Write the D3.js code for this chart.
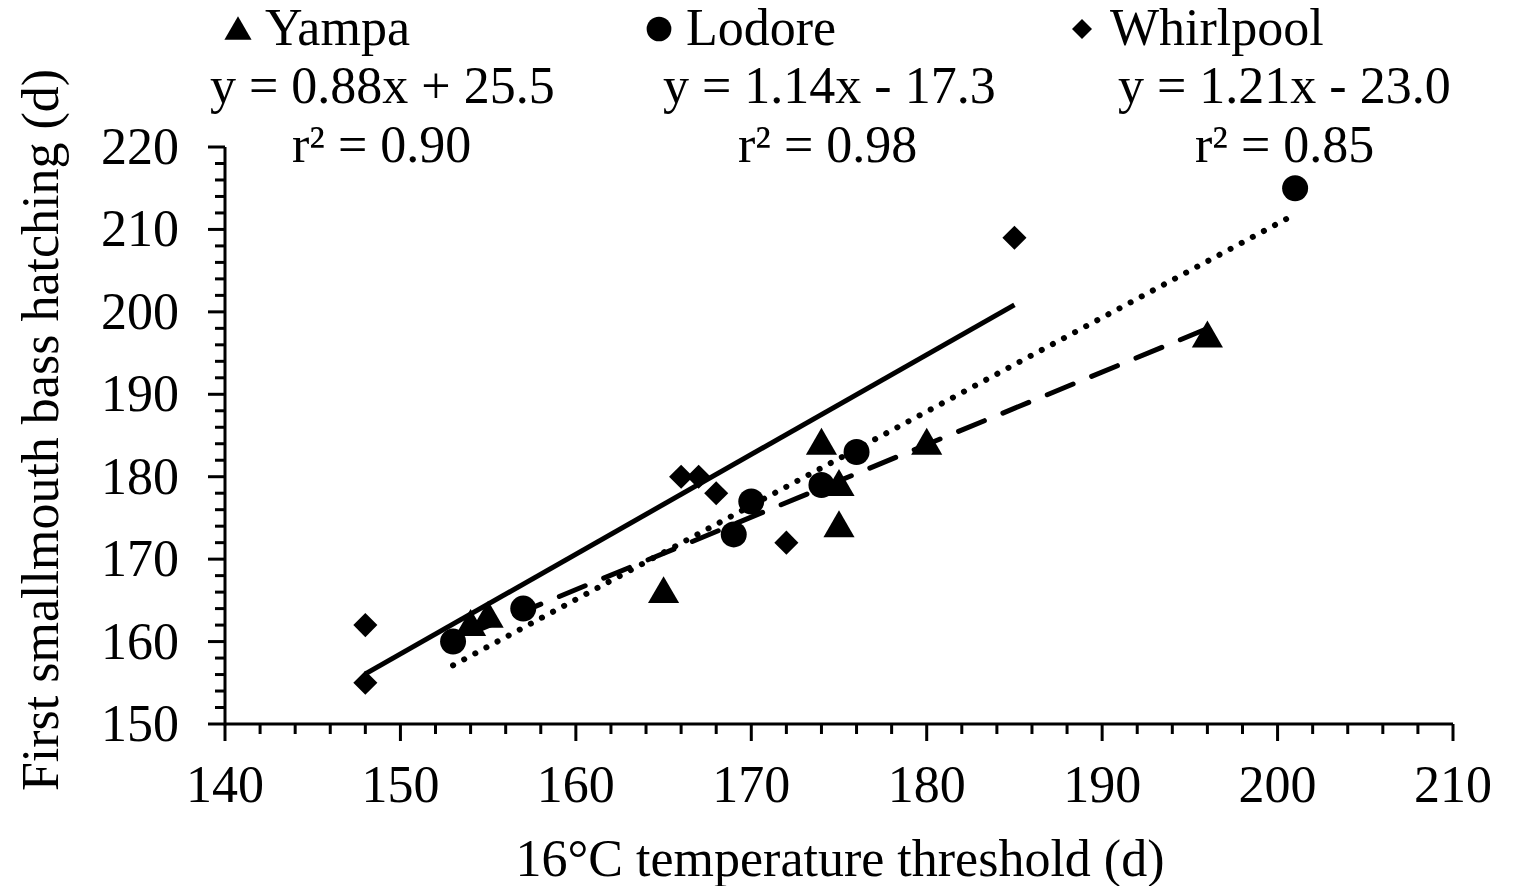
<!DOCTYPE html>
<html><head><meta charset="utf-8">
<script src="https://cdn.jsdelivr.net/npm/d3@7"></script>
<style>
body{margin:0;background:#fff;}
svg text{font-family:"Liberation Serif","Times New Roman",serif;fill:#000;}
</style></head>
<body><svg id="c" width="1519" height="886"></svg>
<script>
// ---- data ----
const seriesNames = ["Yampa", "Lodore", "Whirlpool"];
const yampaX = [154, 155, 165, 174, 175, 175, 180, 196];
const yampaY = [162, 163, 166, 184, 179, 174, 184, 197];
const lodoreX = [153, 157, 169, 170, 174, 176, 201];
const lodoreY = [160, 164, 173, 177, 179, 183, 215];
const whirlX = [148, 148, 166, 167, 168, 172, 185];
const whirlY = [162, 155, 180, 180, 178, 172, 209];
const slopes = [0.88, 1.14, 1.21];
const intercepts = [25.5, -17.3, -23.0];
const equations = ["y = 0.88x + 25.5", "y = 1.14x - 17.3", "y = 1.21x - 23.0"];
const r2Labels = ["r\u00B2 = 0.90", "r\u00B2 = 0.98", "r\u00B2 = 0.85"];
const xTicks = [140, 150, 160, 170, 180, 190, 200, 210];
const yTicks = [150, 160, 170, 180, 190, 200, 210, 220];
const xTitle = "16\u00B0C temperature threshold (d)";
const yTitle = "First smallmouth bass hatching (d)";

// ---- layout ----
const svg = d3.select("#c");
const x = d3.scaleLinear().domain([140, 210]).range([225, 1453]);
const y = d3.scaleLinear().domain([150, 220]).range([724, 147]);
const FS = 52;

// minor ticks
const xMinor = d3.range(140, 211, 2).filter(v => v % 10 !== 0);
const yMinor = d3.range(150, 221, 2).filter(v => v % 10 !== 0);
const axG = svg.append("g");
axG.selectAll(".xm").data(xMinor).join("line")
  .attr("x1", d => x(d)).attr("x2", d => x(d)).attr("y1", 724).attr("y2", 734)
  .attr("stroke", "#000").attr("stroke-width", 3);
axG.selectAll(".xM").data(xTicks).join("line")
  .attr("x1", d => x(d)).attr("x2", d => x(d)).attr("y1", 724).attr("y2", 741)
  .attr("stroke", "#000").attr("stroke-width", 3);
axG.selectAll(".ym").data(yMinor).join("line")
  .attr("y1", d => y(d)).attr("y2", d => y(d)).attr("x1", 225).attr("x2", 215)
  .attr("stroke", "#000").attr("stroke-width", 3);
axG.selectAll(".yM").data(yTicks).join("line")
  .attr("y1", d => y(d)).attr("y2", d => y(d)).attr("x1", 225).attr("x2", 208)
  .attr("stroke", "#000").attr("stroke-width", 3);
axG.append("line").attr("x1", x(140)).attr("x2", x(210)).attr("y1", y(150)).attr("y2", y(150))
  .attr("stroke", "#000").attr("stroke-width", 3);
axG.append("line").attr("x1", x(140)).attr("x2", x(140)).attr("y1", y(150)+1.5).attr("y2", y(220))
  .attr("stroke", "#000").attr("stroke-width", 3);

// tick labels
svg.selectAll(".xl").data(xTicks).join("text")
  .attr("x", d => x(d)).attr("y", 802).attr("text-anchor", "middle")
  .attr("font-size", FS).text(d => d);
svg.selectAll(".yl").data(yTicks).join("text")
  .attr("x", 179).attr("y", d => y(d) + 17).attr("text-anchor", "end")
  .attr("font-size", FS).text(d => d);

// axis titles
svg.append("text").attr("x", 840).attr("y", 876).attr("text-anchor", "middle")
  .attr("font-size", FS).text(xTitle);
svg.append("text").attr("transform", "translate(58,430) rotate(-90)")
  .attr("text-anchor", "middle").attr("font-size", FS).text(yTitle);

// trend lines
const seriesX = [yampaX, lodoreX, whirlX];
const seriesY = [yampaY, lodoreY, whirlY];
const dashes = ["28,20", "0.1,12.5", null];
const widths = [5, 6, 5];
const caps = ["round", "round", "butt"];
seriesX.forEach((xs, i) => {
  const [x0, x1] = d3.extent(xs);
  const l = svg.append("line")
    .attr("x1", x(x0)).attr("y1", y(slopes[i] * x0 + intercepts[i]))
    .attr("x2", x(x1)).attr("y2", y(slopes[i] * x1 + intercepts[i]))
    .attr("stroke", "#000").attr("stroke-width", widths[i]).attr("stroke-linecap", caps[i]);
  if (dashes[i]) l.attr("stroke-dasharray", dashes[i]);
});

// markers
const triSym = d3.symbol().type(d3.symbolTriangle).size(420);
const cirSym = d3.symbol().type(d3.symbolCircle).size(530);
const diaSym = d3.symbol().type(d3.symbolSquare).size(290);
function drawPts(xs, ys, sym, rot, dy) {
  svg.append("g").selectAll("path").data(xs.map((v, i) => [v, ys[i]])).join("path")
    .attr("d", sym)
    .attr("transform", d => `translate(${x(d[0])},${y(d[1]) + (dy||0)}) rotate(${rot})`)
    .attr("fill", "#000");
}
drawPts(whirlX, whirlY, diaSym, 45);
drawPts(lodoreX, lodoreY, cirSym, 0);
drawPts(yampaX, yampaY, triSym, 0, 2);

// legend
const legX = [238, 659, 1082];
const legText = [265, 686, 1110];
const legSyms = [d3.symbol().type(d3.symbolTriangle).size(320),
                 d3.symbol().type(d3.symbolCircle).size(480),
                 d3.symbol().type(d3.symbolSquare).size(200)];
const legRot = [0, 0, 45];
seriesNames.forEach((n, i) => {
  svg.append("path").attr("d", legSyms[i]())
    .attr("transform", `translate(${legX[i]},${i===0?32:29}) rotate(${legRot[i]})`).attr("fill", "#000");
  svg.append("text").attr("x", legText[i]).attr("y", 45).attr("font-size", FS).text(n);
});
const eqX = [210, 663, 1118];
const r2X = [292, 738, 1195];
equations.forEach((e, i) => {
  svg.append("text").attr("x", eqX[i]).attr("y", 103).attr("font-size", FS).text(e);
  svg.append("text").attr("x", r2X[i]).attr("y", 162).attr("font-size", FS).text(r2Labels[i]);
});
</script></body></html>
